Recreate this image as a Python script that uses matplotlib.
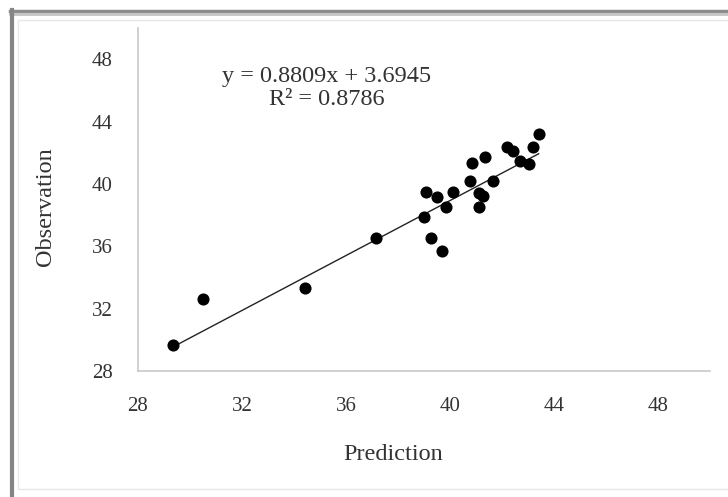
import matplotlib
matplotlib.use("Agg")
import matplotlib.pyplot as plt
from matplotlib.lines import Line2D
from matplotlib.patches import Rectangle

# predicted vs observed values
prediction = [29.34, 30.50, 34.44, 37.15, 39.01, 39.27, 39.70, 39.07, 39.51, 39.85,
              40.11, 40.77, 40.85, 41.11, 41.25, 41.11, 41.36, 41.67, 42.19, 42.42,
              42.70, 43.04, 43.21, 43.41]
observation = [29.67, 32.62, 33.34, 36.54, 37.85, 36.54, 35.69, 39.49, 39.13, 38.53,
               39.49, 40.20, 41.31, 39.39, 39.20, 38.53, 41.70, 40.20, 42.38, 42.12,
               41.48, 41.27, 42.34, 43.19]
slope, intercept, r2 = 0.8809, 3.6945, 0.8786
ticks = [28, 32, 36, 40, 44, 48]

W, H = 728, 497
plt.rcParams['font.family'] = ['Liberation Serif', 'DejaVu Serif']
txt = '#333333'

fig = plt.figure(figsize=(W / 100, H / 100), dpi=100)
ax = fig.add_axes([138 / W, 1 - 371 / H, (710 - 138) / W, (371 - 28) / H])

ax.scatter(prediction, observation, s=76, color='black', zorder=3, linewidths=0)
x0, x1 = min(prediction), max(prediction)
ax.plot([x0, x1], [slope * x0 + intercept, slope * x1 + intercept],
        color='#222222', lw=1.0, zorder=2)

ax.set_xlim(28, 50)
ax.set_ylim(28, 50)
ax.set_xticks(ticks)
ax.set_yticks(ticks)
ax.tick_params(length=0, labelsize=15, colors=txt, pad=18)
ax.tick_params(axis='x', pad=19)
for side in ('top', 'right'):
    ax.spines[side].set_visible(False)
for side in ('left', 'bottom'):
    ax.spines[side].set_color('#c8c8c8')
    ax.spines[side].set_linewidth(1.2)

ax.text(0.33, 0.825, f"y = {slope}x + {intercept}\nR² = {r2}",
        transform=ax.transAxes, ha='center', va='center', fontsize=17.5,
        color=txt, linespacing=1.1)

fig.text(45 / W, 1 - 207 / H, "Observation", rotation=90, ha='center', va='center',
         fontsize=17.5, color=txt)
fig.text(393 / W, 1 - 455 / H, "Prediction", ha='center', va='center',
         fontsize=17.5, color=txt)

# outer frame of the chart object
fig.add_artist(Rectangle((18 / W, 1 - 489 / H), 1.0, (489 - 20) / H,
                         transform=fig.transFigure, fill=False,
                         edgecolor='#e8e8e8', lw=1.0))
fig.add_artist(Line2D([10 / W, 1], [1 - 11 / H] * 2, transform=fig.transFigure,
                      color='#8c8c8c', lw=2.5))
fig.add_artist(Line2D([10 / W, 1], [1 - 14 / H] * 2, transform=fig.transFigure,
                      color='#c4c4c4', lw=2))
fig.add_artist(Line2D([12 / W] * 2, [0, 1 - 10 / H], transform=fig.transFigure,
                      color='#858585', lw=3))

fig.savefig('out.png', dpi=100)
